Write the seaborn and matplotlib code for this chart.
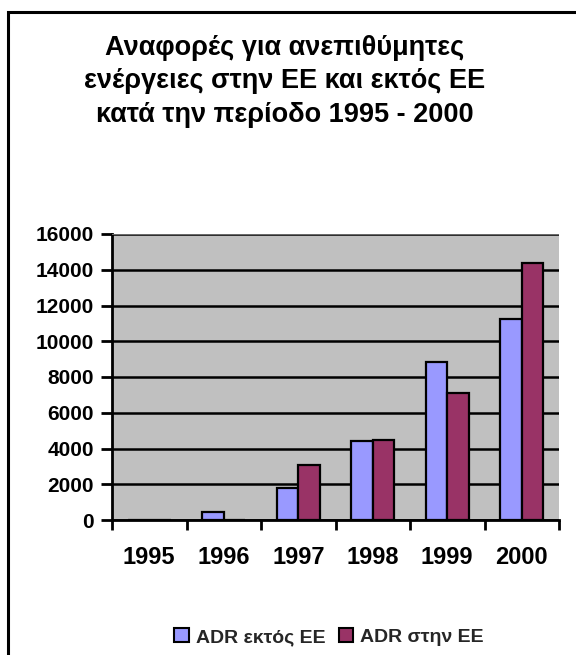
import matplotlib
matplotlib.use("Agg")
import matplotlib.pyplot as plt
from matplotlib.patches import Rectangle, Patch
from matplotlib.ticker import FixedLocator
import seaborn as sns
import pandas as pd

years = ["1995", "1996", "1997", "1998", "1999", "2000"]
adr_outside_eu = [0, 430, 1780, 4420, 8850, 11260]
adr_inside_eu = [0, 0, 3080, 4500, 7110, 14360]
series_names = ["ADR εκτός ΕΕ", "ADR στην ΕΕ"]
series_colors = ["#9999FF", "#993366"]
title_text = "Αναφορές για ανεπιθύμητες\nενέργειες στην ΕΕ και εκτός ΕΕ\nκατά την περίοδο 1995 - 2000"
y_ticks = [0, 2000, 4000, 6000, 8000, 10000, 12000, 14000, 16000]

df = pd.DataFrame({
    "year": years * 2,
    "value": adr_outside_eu + adr_inside_eu,
    "series": [series_names[0]] * len(years) + [series_names[1]] * len(years),
})

sns.set_theme(style="white")
plt.rcParams["font.family"] = ["Liberation Sans", "DejaVu Sans"]
plt.rcParams["font.weight"] = "bold"

W, H = 576, 655
fig = plt.figure(figsize=(W / 100, H / 100), dpi=100)
fig.patch.set_facecolor("white")

ax = fig.add_axes([112 / W, 1 - 520 / H, (559 - 112) / W, (520 - 234) / H])
ax.set_facecolor("#C0C0C0")

sns.barplot(data=df, x="year", y="value", hue="series", order=years,
            hue_order=series_names, palette=series_colors, width=0.572,
            edgecolor="black", linewidth=1.6, saturation=1, ax=ax, legend=False)

ax.set_xlim(-0.5, len(years) - 0.5)
ax.set_ylim(0, 16000)
ax.yaxis.set_major_locator(FixedLocator(y_ticks))
ax.set_yticklabels([str(v) for v in y_ticks])
ax.grid(axis="y", color="black", linewidth=1.8)
ax.set_axisbelow(True)

for side in ["top", "right"]:
    ax.spines[side].set_visible(False)
ax.spines["left"].set_color("black")
ax.spines["left"].set_linewidth(2)
ax.spines["bottom"].set_color("black")
ax.spines["bottom"].set_linewidth(2)
ax.axhline(16000, color="#808080", linewidth=1.2, zorder=3)

ax.tick_params(axis="y", which="major", direction="out", length=8, width=2,
               color="black", pad=5, labelsize=15, left=True)
ax.xaxis.set_minor_locator(FixedLocator([i - 0.5 for i in range(len(years) + 1)]))
ax.tick_params(axis="x", which="major", length=0, pad=19, labelsize=17)
ax.tick_params(axis="x", which="minor", direction="out", length=7, width=2,
               color="black", bottom=True)
for lbl in ax.get_xticklabels() + ax.get_yticklabels():
    lbl.set_fontweight("bold")
    lbl.set_color("black")
ax.set_xlabel("")
ax.set_ylabel("")

fig.text(285 / W, 1 - 35 / H, title_text, ha="center", va="top",
         fontsize=19.5, fontweight="bold", linespacing=1.37, color="black")

handles = [Patch(facecolor=c, edgecolor="black", linewidth=1.5, label=n)
           for c, n in zip(series_colors, series_names)]
fig.legend(handles=handles, loc="center", bbox_to_anchor=(329 / W, 1 - 637 / H),
           ncol=2, frameon=False, handlelength=0.75, handleheight=0.75,
           handletextpad=0.35, columnspacing=0.7,
           prop={"size": 14, "weight": "bold"})

fig.add_artist(Rectangle((8 / W, -0.1), 1.2, 1 - 12 / H + 0.1,
                         transform=fig.transFigure, fill=False,
                         edgecolor="black", linewidth=2.2, clip_on=False))

fig.savefig("out.png", dpi=100)
